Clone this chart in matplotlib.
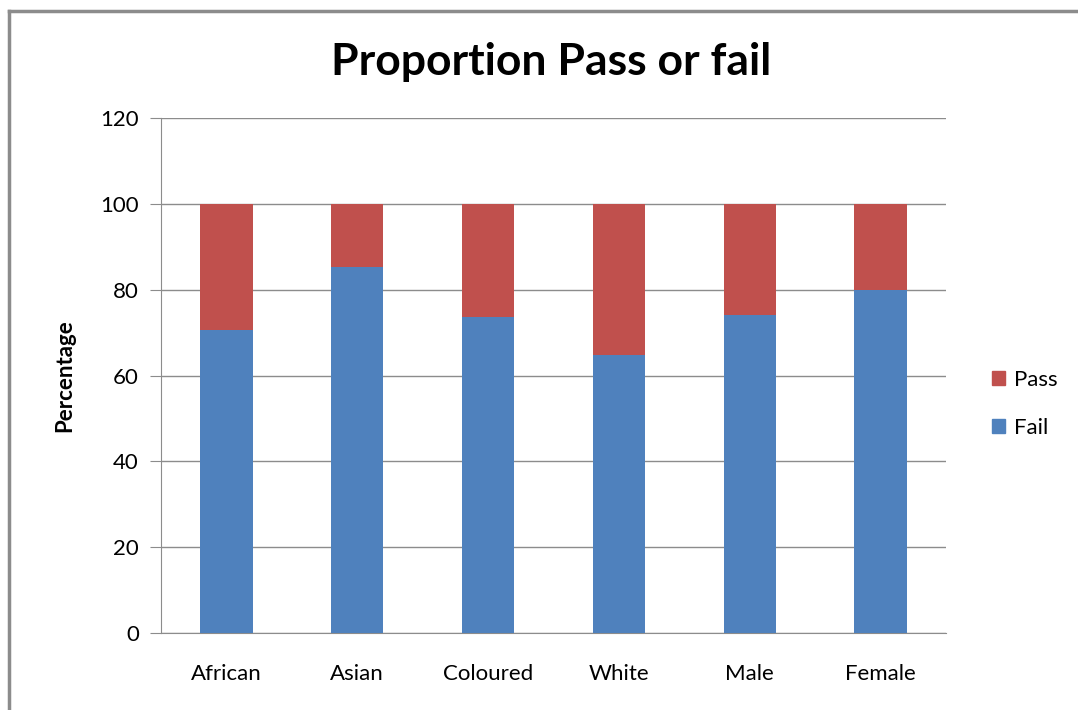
import numpy as np
import matplotlib.pyplot as plt
from matplotlib.lines import Line2D
from matplotlib.patches import Patch

plt.rcParams['font.family'] = ['Lato', 'DejaVu Sans']

groups = ["African", "Asian", "Coloured", "White", "Male", "Female"]
fail = [70.6, 85.3, 73.7, 64.8, 74.0, 80.0]
passed = [100 - f for f in fail]

fail_col = "#4f81bd"
pass_col = "#c0504d"
grid_col = "#8c8c8c"

fig = plt.figure(figsize=(10.78, 7.10), dpi=100)
ax = fig.add_axes([161/1078, 1 - 633/710, 785/1078, 515/710])

x = np.arange(len(groups))
ax.bar(x, fail, width=0.4, color=fail_col, zorder=3)
ax.bar(x, passed, width=0.4, bottom=fail, color=pass_col, zorder=3)

ax.set_xlim(-0.5, len(groups) - 0.5)
ax.set_ylim(0, 120)
ax.set_yticks(range(0, 121, 20))
ax.set_xticks(x)
ax.set_xticklabels(groups)
ax.yaxis.grid(True, color=grid_col, linewidth=1)
ax.set_axisbelow(True)

for s in ["top", "right"]:
    ax.spines[s].set_visible(False)
for s in ["left", "bottom"]:
    ax.spines[s].set_color(grid_col)
ax.tick_params(axis="y", length=8, color=grid_col, labelsize=16, pad=8)
ax.tick_params(axis="x", length=0, labelsize=16, pad=22)

ax.set_ylabel("Percentage", fontsize=16, fontweight="bold", labelpad=18)
fig.text(551/1078, 1 - 62/710, "Proportion Pass or fail", ha="center", va="center",
         fontsize=32, fontweight="bold")

handles = [Patch(color=pass_col), Patch(color=fail_col)]
fig.legend(handles, ["Pass", "Fail"], loc="center left",
           bbox_to_anchor=(972/1078, 1 - 404/710), frameon=False, fontsize=16,
           handlelength=0.6, handleheight=0.6, handletextpad=0.4, labelspacing=1.25)

# outer chart frame
fig.add_artist(Line2D([9/1078, 9/1078], [0, 1 - 11/710], color="#8c8c8c", lw=2.5))
fig.add_artist(Line2D([9/1078, 1], [1 - 11/710, 1 - 11/710], color="#8c8c8c", lw=2.5))

fig.savefig("out.png", dpi=100)
